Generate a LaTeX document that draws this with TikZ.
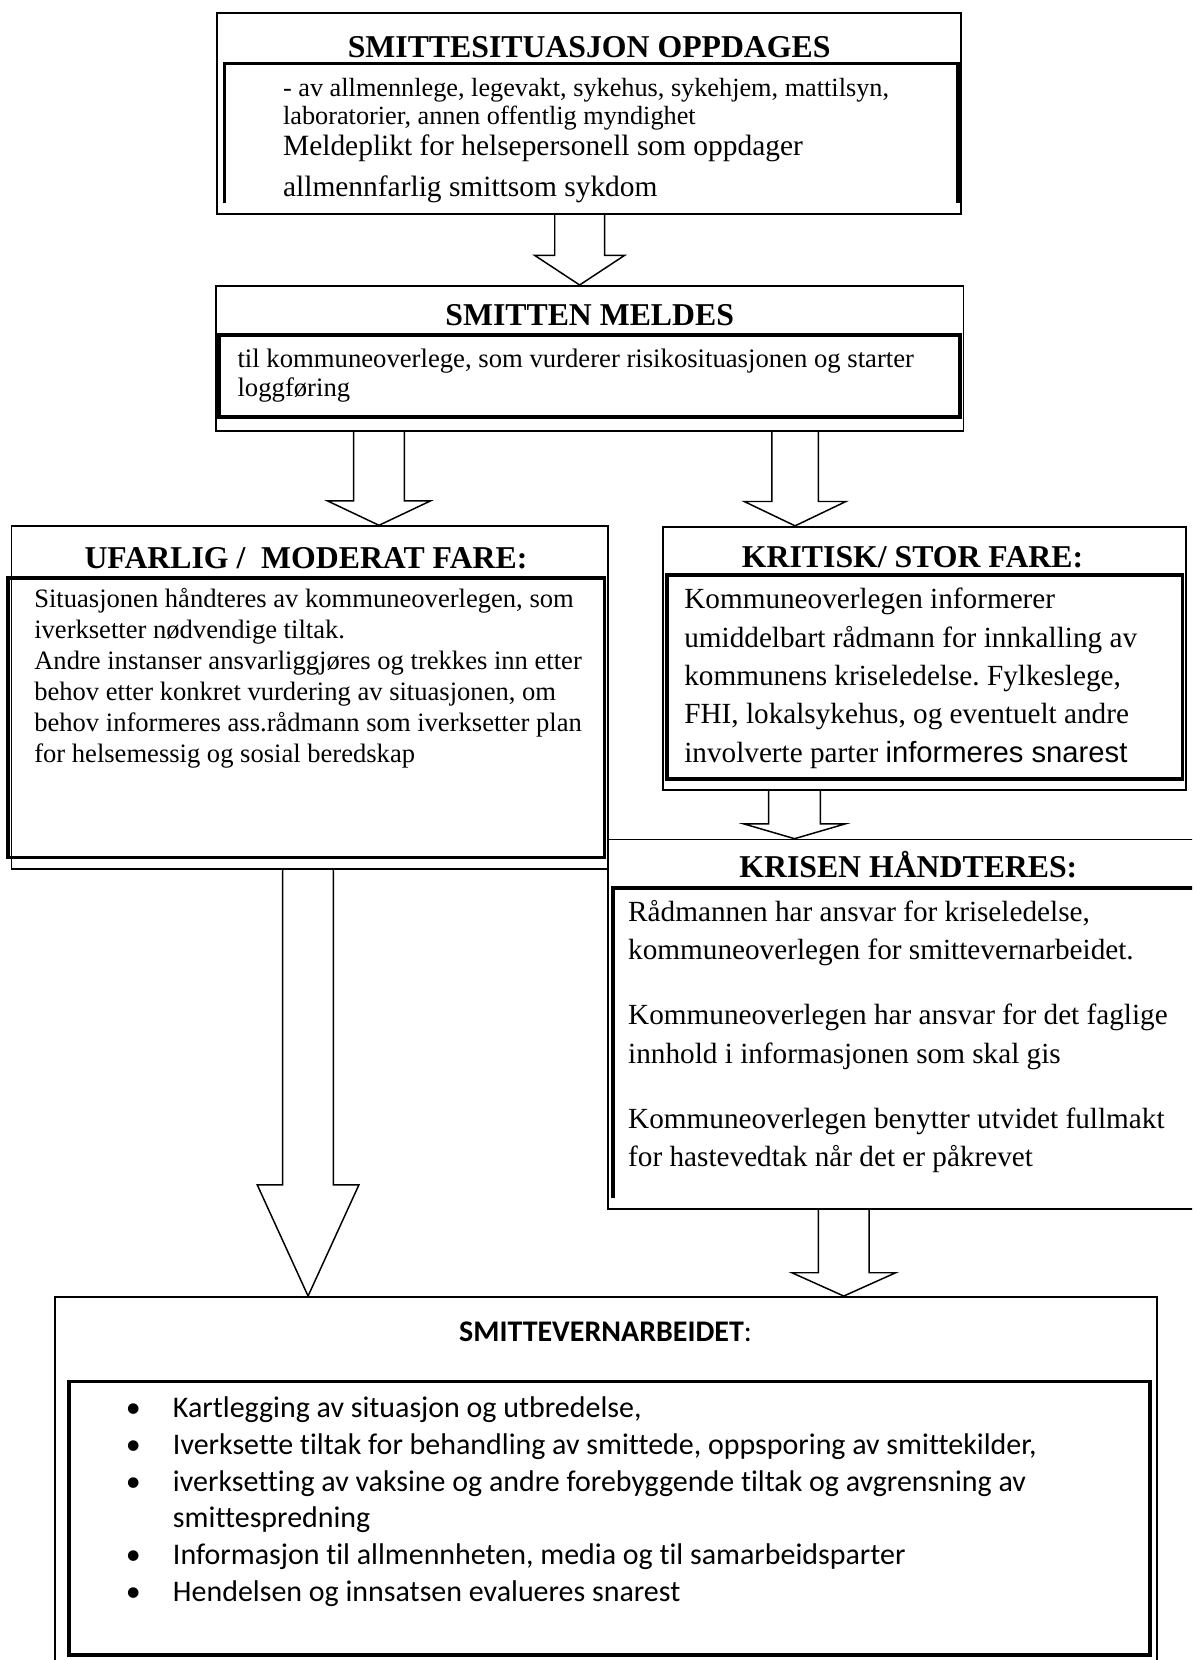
\documentclass[tikz,border=0pt]{standalone}
\usepackage{fontspec}
\setmainfont{Liberation Serif}
\newfontfamily\calibrifont{Carlito}[Ligatures=NoCommon]
\newfontfamily\arialfont{Liberation Sans}
\usetikzlibrary{positioning, calc, fit}
\frenchspacing

\newcommand{\blockarrow}[6]{%
  \draw[arrowline] ($(#1 -| #3)+(-#4,0)$) -- ($(#2 -| #3)+(-#4,-#6)$) -- ($(#2 -| #3)+(-#5,-#6)$)
    -- (#2 -| #3) -- ($(#2 -| #3)+(#5,-#6)$) -- ($(#2 -| #3)+(#4,-#6)$) -- ($(#1 -| #3)+(#4,0)$);}

\begin{document}
\begin{tikzpicture}[
      x=0.5pt, y=-0.5pt,
      boxframe/.style={draw, line width=0.8pt, inner sep=0pt},
      innerframe/.style={draw, line width=1.8pt, inner sep=0pt},
      innerline/.style={line width=1.8pt},
      heading/.style={font=\bfseries\fontsize{15}{18}\selectfont, inner sep=0pt, anchor=base},
      bodytext/.style={align=left, inner sep=0pt, anchor=north west},
      arrowline/.style={line width=0.7pt}
    ]
      \useasboundingbox (0,0) rectangle (1126,1568);
      \clip (0,0) rectangle (1126,1568);

      \node[boxframe, fit={(205,12) (908,202)}] (situasjon) {};
      \node[boxframe, fit={(204,270) (910,407)}] (meldes) {};
      \node[boxframe, fit={(11,497) (574,821)}] (ufarlig) {};
      \node[boxframe, fit={(626,497.5) (1120,746)}] (kritisk) {};
      \node[boxframe, fit={(574,793) (1150,1142)}] (krisen) {};
      \node[boxframe, fit={(52,1225) (1093,1580)}] (smittevern) {};

      \draw[innerline] (212,192) |- (905,60) -- (905,192);
      \node[innerframe, fit={(207,316.5) (907,393.6)}] (meldesramme) {};
      \node[innerframe, fit={(7.5,546) (571,810)}] (ufarligramme) {};
      \node[innerframe, fit={(630,543) (1117,736)}] (kritiskramme) {};
      \draw[innerline] (579,1132) |- (1150,839);
      \node[innerframe, fit={(65.5,1305) (1086,1563.5)}] (smittevernramme) {};

      \node[heading] (situasjontittel) at (556.5,54) {SMITTESITUASJON OPPDAGES};
      \node[heading] (meldestittel) at (557,307.5) {SMITTEN MELDES};
      \node[heading] (ufarligtittel) at (289,537) {UFARLIG /\ \ MODERAT FARE:};
      \node[heading] (kritisktittel) at (862,536) {KRITISK/ STOR FARE:};
      \node[heading] (krisentittel) at (858,828.7) {KRISEN HÅNDTERES:};
      \node[heading, font=\calibrifont\fontsize{14.15}{17}\selectfont] (smitteverntittel) at (572,1267) {\textbf{SMITTEVERNARBEIDET}:};

      \node[bodytext, font=\fontsize{12.4}{13}\selectfont] (situasjonliste) at (267,73.8)
        {- av allmennlege, legevakt, sykehus, sykehjem, mattilsyn,\\laboratorier, annen offentlig myndighet};
      \node[bodytext, font=\fontsize{13.9}{19.5}\selectfont] (situasjonplikt) at (267,126.5)
        {Meldeplikt for helsepersonell som oppdager\\allmennfarlig smittsom sykdom};
      \node[bodytext, font=\fontsize{12.6}{13.5}\selectfont] (meldestekst) at (224,329.7)
        {til kommuneoverlege, som vurderer risikosituasjonen og starter\\loggføring};
      \node[bodytext, font=\fontsize{12.55}{14.6}\selectfont] (ufarligtekst) at (32,555.5)
        {Situasjonen håndteres av kommuneoverlegen, som\\
         iverksetter nødvendige tiltak.\\
         Andre instanser ansvarliggjøres og trekkes inn etter\\
         behov etter konkret vurdering av situasjonen, om\\
         behov informeres ass.rådmann som iverksetter plan\\
         for helsemessig og sosial beredskap};
      \node[bodytext, font=\fontsize{13.8}{18.1}\selectfont] (kritisktekst) at (646,555.4)
        {Kommuneoverlegen informerer\\
         umiddelbart rådmann for innkalling av\\
         kommunens kriseledelse. Fylkeslege,\\
         FHI, lokalsykehus, og eventuelt andre\\
         involverte parter {\arialfont informeres snarest}};
      \node[bodytext, font=\fontsize{13.8}{18.3}\selectfont] (krisentekst) at (593,849.6)
        {Rådmannen har ansvar for kriseledelse,\\
         kommuneoverlegen for smittevernarbeidet.\\[12.3pt]
         Kommuneoverlegen har ansvar for det faglige\\
         innhold i informasjonen som skal gis\\[12.3pt]
         Kommuneoverlegen benytter utvidet fullmakt\\
         for hastevedtak når det er påkrevet};
      \node[bodytext, font=\calibrifont\fontsize{14.15}{17.45}\selectfont] (tiltakliste) at (118.6,1318.5)
        {\makebox[22.2pt][l]{\textbullet}Kartlegging av situasjon og utbredelse,\\
         \makebox[22.2pt][l]{\textbullet}Iverksette tiltak for behandling av smittede, oppsporing av smittekilder,\\
         \makebox[22.2pt][l]{\textbullet}iverksetting av vaksine og andre forebyggende tiltak og avgrensning av\\
         \makebox[22.2pt][l]{}smittespredning\\
         \makebox[22.2pt][l]{\textbullet}Informasjon til allmennheten, media og til samarbeidsparter\\
         \makebox[22.2pt][l]{\textbullet}Hendelsen og innsatsen evalueres snarest};

      \coordinate (akse1) at (547.5,0);
      \coordinate (akse2) at (358,0);
      \coordinate (akse3) at (751,0);
      \coordinate (akse4) at (750.5,0);
      \coordinate (akse5) at (291,0);
      \coordinate (akse6) at (797,0);

      \blockarrow{situasjon.south}{meldes.north}{akse1}{23.5}{42.5}{28}
      \blockarrow{meldes.south}{ufarlig.north}{akse2}{24}{48.5}{23}
      \blockarrow{meldes.south}{kritisk.north}{akse3}{22}{48}{23}
      \blockarrow{kritisk.south}{krisen.north}{akse4}{24.5}{48}{14}
      \blockarrow{ufarlig.south}{smittevern.north}{akse5}{24}{48}{105}
      \blockarrow{krisen.south}{smittevern.north}{akse6}{24}{49}{22}
    \end{tikzpicture}
\end{document}
